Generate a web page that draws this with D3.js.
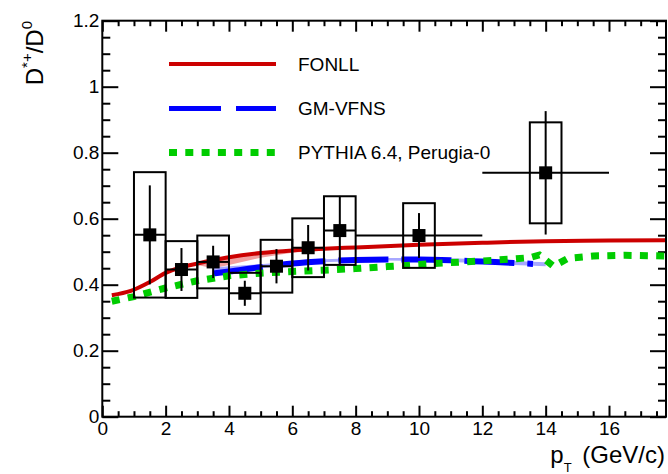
<!DOCTYPE html>
<html>
    <head>
        <meta charset="utf-8">
        <title>D*+/D0 ratio vs pT</title>
        <style>
            body { margin: 0; background: #fff; }
            text {
                font-family: 'Liberation Sans', Arial, sans-serif;
            }
        </style>
        <script src="https://d3js.org/d3.v7.min.js"></script>
        <script>
            // measured points: pT, ratio, stat error, syst error, pT half-width
            var ptValues = [1.5, 2.5, 3.5, 4.5, 5.5, 6.5, 7.5, 10, 14];
            var ratioValues = [0.551, 0.446, 0.469, 0.374, 0.456, 0.512, 0.564, 0.549, 0.739];
            var statErr = [0.150, 0.065, 0.049, 0.038, 0.052, 0.069, 0.105, 0.068, 0.187];
            var systErr = [0.190, 0.086, 0.080, 0.062, 0.080, 0.089, 0.104, 0.098, 0.153];
            var ptHalfWidth = [0.5, 0.5, 0.5, 0.5, 0.5, 0.5, 0.5, 2, 2];

            // FONLL central curve and lower edge of its band
            var fonllX = [0.3, 0.9, 1.5, 2.0, 2.5, 3.0, 3.5, 4.0, 5.0, 6.0, 7.0, 8.0, 10, 12, 14, 16, 17.8];
            var fonllY = [0.368, 0.381, 0.408, 0.436, 0.453, 0.464, 0.474, 0.483, 0.496, 0.504, 0.509, 0.513, 0.521, 0.527, 0.532, 0.534, 0.535];
            var fonllLow = [0.368, 0.381, 0.408, 0.436, 0.453, 0.460, 0.450, 0.460, 0.482, 0.497, 0.505, 0.510, 0.519, 0.526, 0.531, 0.533, 0.534];

            // GM-VFNS curve and band
            var gmX = [3.5, 4.0, 5.0, 6.0, 7.0, 8.0, 9.0, 10, 11, 12, 13, 13.6];
            var gmY = [0.434, 0.440, 0.453, 0.464, 0.471, 0.475, 0.476, 0.476, 0.474, 0.470, 0.466, 0.463];
            var gmBandX = [3.5, 4.0, 5.0, 6.0, 7.0, 8.0, 9.0, 10, 11, 12, 13, 14];
            var gmBandLow = [0.428, 0.434, 0.449, 0.461, 0.468, 0.472, 0.473, 0.472, 0.469, 0.465, 0.460, 0.456];
            var gmBandHigh = [0.452, 0.456, 0.462, 0.470, 0.477, 0.480, 0.481, 0.481, 0.480, 0.477, 0.472, 0.468];

            // PYTHIA 6.4 Perugia-0
            var pythiaX = [0.3, 1.0, 2.0, 3.0, 4.0, 5.0, 6.0, 7.0, 8.0, 9.0, 10, 11, 12, 13, 13.5, 13.8, 14.25, 14.7, 15.5, 16.5, 17.8];
            var pythiaY = [0.350, 0.364, 0.390, 0.412, 0.427, 0.435, 0.440, 0.444, 0.449, 0.455, 0.461, 0.467, 0.472, 0.478, 0.482, 0.490, 0.456, 0.480, 0.487, 0.489, 0.487];

            var xMajor = [0, 2, 4, 6, 8, 10, 12, 14, 16];
            var yMajor = [0, 0.2, 0.4, 0.6, 0.8, 1, 1.2];
            var legendLabels = ["FONLL", "GM-VFNS", "PYTHIA 6.4, Perugia-0"];

            function run() {
                var width = 668, height = 474;
                var left = 102.3, right = 666, top = 20.7, bottom = 416.7;

                var svg = d3.select("#chart").append("svg")
                    .attr("width", width)
                    .attr("height", height);

                var x = d3.scaleLinear().domain([0, 17.8]).range([left, right]);
                var y = d3.scaleLinear().domain([0, 1.2]).range([bottom, top]);

                var xMinor = d3.range(0, 17.8, 0.5).filter(v => v % 2 != 0);
                var yMinor = d3.range(0, 1.2001, 0.05).filter(v => Math.abs(v * 5 - Math.round(v * 5)) > 1e-6);

                // ticks (all pointing inward)
                var g;
                g = svg.append("g").attr("transform", "translate(0," + bottom + ")")
                    .call(d3.axisBottom(x).tickValues(xMajor).tickSize(-11).tickPadding(5).tickFormat(d3.format("")));
                g.select(".domain").remove();
                g.selectAll("text").attr("font-size", 19).attr("font-family", "'Liberation Sans', Arial, sans-serif").attr("fill", "#000");
                svg.append("g").attr("transform", "translate(0," + bottom + ")")
                    .call(d3.axisBottom(x).tickValues(xMinor).tickSize(-5.5).tickFormat(""))
                    .select(".domain").remove();
                svg.append("g").attr("transform", "translate(0," + top + ")")
                    .call(d3.axisTop(x).tickValues(xMajor).tickSize(-11).tickFormat(""))
                    .select(".domain").remove();
                svg.append("g").attr("transform", "translate(0," + top + ")")
                    .call(d3.axisTop(x).tickValues(xMinor).tickSize(-5.5).tickFormat(""))
                    .select(".domain").remove();

                g = svg.append("g").attr("transform", "translate(" + left + ",0)")
                    .call(d3.axisLeft(y).tickValues(yMajor).tickSize(-16).tickPadding(3).tickFormat(d3.format("")));
                g.select(".domain").remove();
                g.selectAll("text").attr("font-size", 19).attr("font-family", "'Liberation Sans', Arial, sans-serif").attr("fill", "#000");
                svg.append("g").attr("transform", "translate(" + left + ",0)")
                    .call(d3.axisLeft(y).tickValues(yMinor).tickSize(-8).tickFormat(""))
                    .select(".domain").remove();
                svg.append("g").attr("transform", "translate(" + right + ",0)")
                    .call(d3.axisRight(y).tickValues(yMajor).tickSize(-16).tickFormat(""))
                    .select(".domain").remove();
                svg.append("g").attr("transform", "translate(" + right + ",0)")
                    .call(d3.axisRight(y).tickValues(yMinor).tickSize(-8).tickFormat(""))
                    .select(".domain").remove();
                svg.selectAll(".tick line").attr("stroke", "#000").attr("stroke-width", 2);

                // theory bands
                var fonllBand = fonllX.map((v, i) => [v, fonllLow[i], fonllY[i]]);
                svg.append("path")
                    .datum(fonllBand)
                    .attr("fill", "#f2a0a0")
                    .attr("d", d3.area().x(d => x(d[0])).y0(d => y(d[1])).y1(d => y(d[2])));
                var gmBand = gmBandX.map((v, i) => [v, gmBandLow[i], gmBandHigh[i]]);
                svg.append("path")
                    .datum(gmBand)
                    .attr("fill", "#a8a8ff")
                    .attr("d", d3.area().x(d => x(d[0])).y0(d => y(d[1])).y1(d => y(d[2])));

                var line = d3.line().x(d => x(d[0])).y(d => y(d[1])).curve(d3.curveMonotoneX);

                svg.append("path")
                    .datum(fonllX.map((v, i) => [v, fonllY[i]]))
                    .attr("fill", "none").attr("stroke", "#cc0000").attr("stroke-width", 4)
                    .attr("d", line);
                svg.append("path")
                    .datum(gmX.map((v, i) => [v, gmY[i]]))
                    .attr("fill", "none").attr("stroke", "#0000ff").attr("stroke-width", 6)
                    .attr("stroke-dasharray", "50,13")
                    .attr("d", line);
                svg.append("path")
                    .datum(pythiaX.map((v, i) => [v, pythiaY[i]]))
                    .attr("fill", "none").attr("stroke", "#00cc00").attr("stroke-width", 7)
                    .attr("stroke-dasharray", "8,8.3")
                    .attr("d", d3.line().x(d => x(d[0])).y(d => y(d[1])));

                // data: syst boxes, error bars, markers
                var pts = ptValues.map((v, i) => ({pt: v, r: ratioValues[i], st: statErr[i], sy: systErr[i], hw: ptHalfWidth[i]}));
                var dg = svg.append("g").attr("stroke", "#000").attr("stroke-width", 2);
                dg.selectAll(".sys").data(pts).enter().append("rect")
                    .attr("fill", "none")
                    .attr("x", d => x(d.pt - 0.5))
                    .attr("width", d => x(d.pt + 0.5) - x(d.pt - 0.5))
                    .attr("y", d => y(d.r + d.sy))
                    .attr("height", d => y(d.r - d.sy) - y(d.r + d.sy));
                dg.selectAll(".ey").data(pts).enter().append("line")
                    .attr("x1", d => x(d.pt)).attr("x2", d => x(d.pt))
                    .attr("y1", d => y(d.r + d.st)).attr("y2", d => y(d.r - d.st));
                dg.selectAll(".ex").data(pts).enter().append("line")
                    .attr("x1", d => x(d.pt - d.hw)).attr("x2", d => x(d.pt + d.hw))
                    .attr("y1", d => y(d.r)).attr("y2", d => y(d.r));
                svg.selectAll(".mk").data(pts).enter().append("rect")
                    .attr("fill", "#000")
                    .attr("x", d => x(d.pt) - 6.5).attr("y", d => y(d.r) - 6.5)
                    .attr("width", 13).attr("height", 13);

                // frame
                svg.append("rect")
                    .attr("x", left).attr("y", top)
                    .attr("width", right - left).attr("height", bottom - top)
                    .attr("fill", "none").attr("stroke", "#000").attr("stroke-width", 2);

                // legend
                var legendY = [64, 108.5, 152.5];
                var legendStyles = [
                    {c: "#cc0000", w: 4, dash: null},
                    {c: "#0000ff", w: 5, dash: "52,15"},
                    {c: "#00cc00", w: 7, dash: "8,8.3"}
                ];
                for (const i in legendLabels) {
                    var s = legendStyles[i];
                    var l = svg.append("line")
                        .attr("x1", 169).attr("x2", 276)
                        .attr("y1", legendY[i]).attr("y2", legendY[i])
                        .attr("stroke", s.c).attr("stroke-width", s.w);
                    if (s.dash) l.attr("stroke-dasharray", s.dash);
                    svg.append("text")
                        .attr("x", 298).attr("y", legendY[i])
                        .attr("dy", "0.36em")
                        .attr("font-size", 19)
                        .text(legendLabels[i]);
                }

                // axis titles
                var xt = svg.append("text")
                    .attr("x", right - 1).attr("y", 463)
                    .attr("text-anchor", "end")
                    .attr("font-size", 24);
                xt.append("tspan").text("p");
                xt.append("tspan").attr("font-size", 13).attr("dy", 9).text("T");
                xt.append("tspan").attr("dy", -9).attr("dx", 4).text(" (GeV/c)");

                var yt = svg.append("text")
                    .attr("transform", "translate(43,21) rotate(-90)")
                    .attr("text-anchor", "end")
                    .attr("font-size", 24);
                yt.append("tspan").text("D");
                yt.append("tspan").attr("font-size", 15).attr("dy", -11).text("*+");
                yt.append("tspan").attr("dy", 11).text("/D");
                yt.append("tspan").attr("font-size", 15).attr("dy", -11).text("0");
            }
        </script>
    </head>
    <body onload="run()">
        <div id="chart"></div>
    </body>
</html>
